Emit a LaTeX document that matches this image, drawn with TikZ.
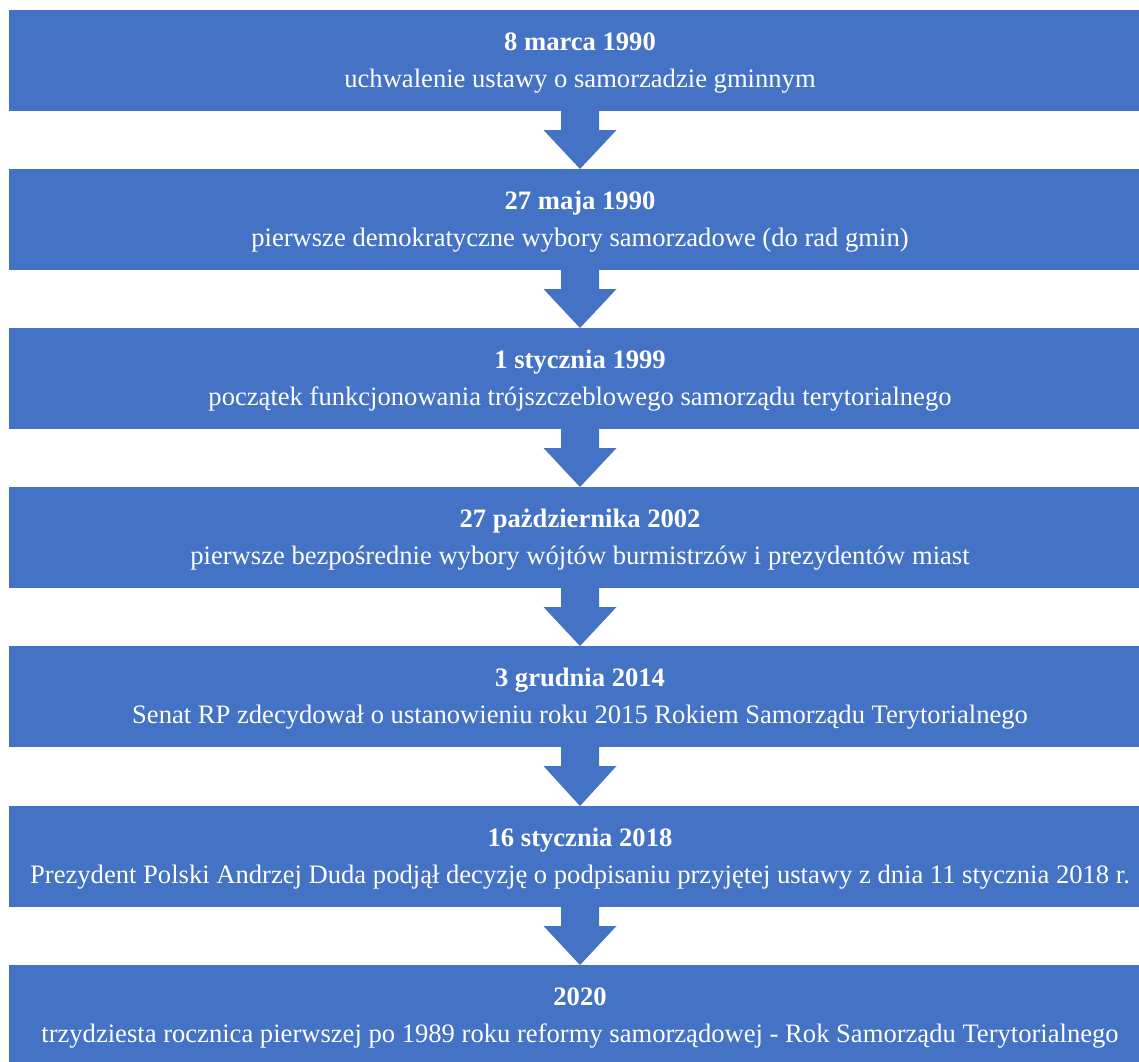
\documentclass[tikz,border=0pt]{standalone}
\usepackage{fontspec}
\setmainfont{Liberation Serif}
\usetikzlibrary{calc}
\definecolor{boxblue}{HTML}{4472C4}
\tikzset{
  box/.style={fill=boxblue, draw=none, minimum width=1142pt, minimum height=101pt, inner sep=0pt, outer sep=0pt},
  datetxt/.style={anchor=base, text=white, inner sep=0pt, font=\fontsize{26.6}{32}\selectfont\bfseries},
  desctxt/.style={anchor=base, text=white, inner sep=0pt, font=\fontsize{26.6}{32}\selectfont},
  flowarrow/.style={fill=boxblue, draw=none}
}
\begin{document}
\begin{tikzpicture}[x=1pt,y=-1pt]
\useasboundingbox (0,0) rectangle (1139,1061);
% boxes (top y: 10,169,328,487,646,806,965)
\node[box] (b1) at (580,60.5) {};
\node[box] (b2) at (580,219.5) {};
\node[box] (b3) at (580,378.5) {};
\node[box] (b4) at (580,537.5) {};
\node[box] (b5) at (580,696.5) {};
\node[box] (b6) at (580,856.5) {};
\node[box] (b7) at (580,1015.5) {};
% texts
\node[datetxt] (d1) at (580,50) {8 marca 1990};
\node[desctxt] (t1) at (580,87) {uchwalenie ustawy o samorzadzie gminnym};
\node[datetxt] (d2) at (580,209) {27 maja 1990};
\node[desctxt] (t2) at (580,246) {pierwsze demokratyczne wybory samorzadowe (do rad gmin)};
\node[datetxt] (d3) at (580,368) {1 stycznia 1999};
\node[desctxt] (t3) at (580,405) {początek funkcjonowania trójszczeblowego samorządu terytorialnego};
\node[datetxt] (d4) at (580,527) {27 pażdziernika 2002};
\node[desctxt] (t4) at (580,564) {pierwsze bezpośrednie wybory wójtów burmistrzów i prezydentów miast};
\node[datetxt] (d5) at (580,686) {3 grudnia 2014};
\node[desctxt] (t5) at (580,723) {Senat RP zdecydował o ustanowieniu roku 2015 Rokiem Samorządu Terytorialnego};
\node[datetxt] (d6) at (580,846) {16 stycznia 2018};
\node[desctxt] (t6) at (580,883) {Prezydent Polski Andrzej Duda podjął decyzję o podpisaniu przyjętej ustawy z dnia 11 stycznia 2018 r.};
\node[datetxt] (d7) at (580,1005) {2020};
\node[desctxt] (t7) at (580,1042) {trzydziesta rocznica pierwszej po 1989 roku reformy samorządowej - Rok Samorządu Terytorialnego};
% arrows
\foreach \a/\b in {b1/b2,b2/b3,b3/b4,b4/b5,b5/b6,b6/b7}{
  \fill[flowarrow] ($(\a.south)+(-19,0)$) -- ($(\a.south)+(-19,19)$) -- ($(\a.south)+(-36.5,19)$)
    -- (\b.north) -- ($(\a.south)+(36.5,19)$) -- ($(\a.south)+(19,19)$) -- ($(\a.south)+(19,0)$) -- cycle;
}
\end{tikzpicture}
\end{document}
